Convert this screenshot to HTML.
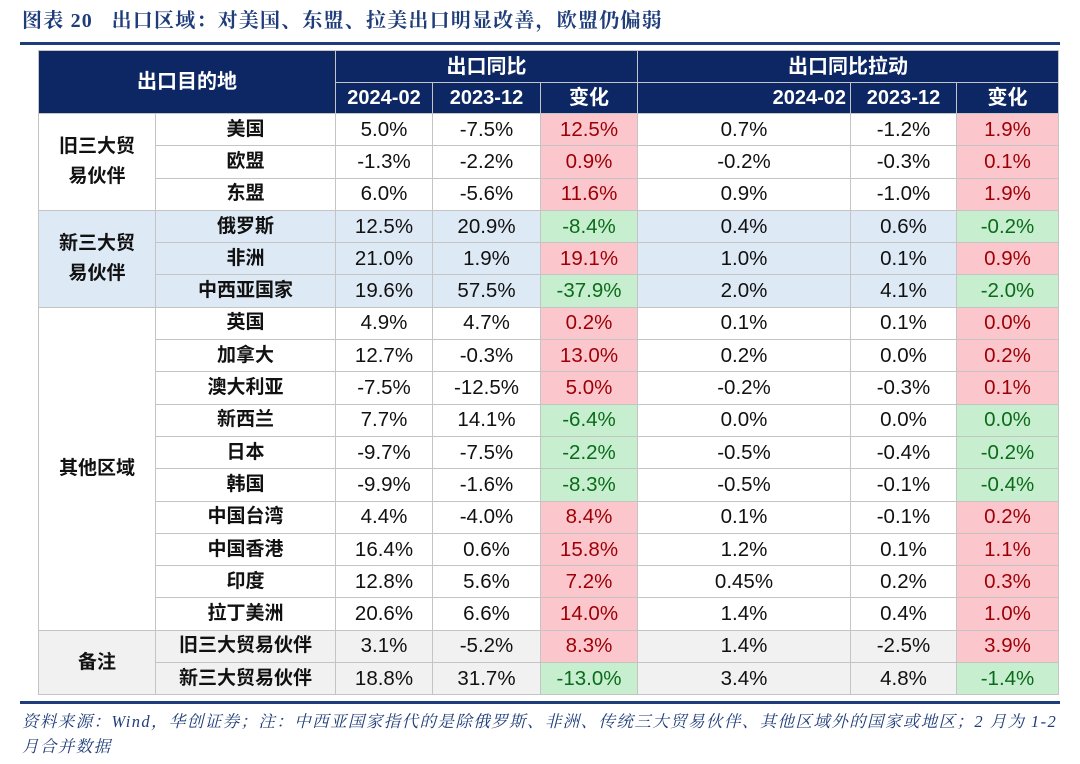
<!DOCTYPE html>
<html><head><meta charset="utf-8">
<style>
body{margin:0;width:1080px;height:764px;background:#fff;position:relative;overflow:hidden;font-family:"Liberation Sans","Noto Sans CJK SC",sans-serif}
#title{position:absolute;left:22px;top:7px;font:bold 20px "Liberation Serif","Noto Serif CJK SC",serif;color:#1f3d7a;letter-spacing:1.2px;white-space:nowrap;line-height:28px}
.rule{position:absolute;left:20px;width:1040px;height:3px;background:#1f3d7a}
table{position:absolute;left:38px;top:50px;border-collapse:collapse;table-layout:fixed;width:1020px}
td,th{border:1.5px solid #c4c4c4;text-align:center;padding:0;font-size:20.5px;color:#111;white-space:nowrap;line-height:22px;vertical-align:middle;overflow:hidden}
th{background:#0c2764;color:#fff;font-weight:bold;font-size:20px}
tr.d{height:32.3px}
tr.h1{height:32px} tr.h2{height:31px}
.g{font-weight:bold;font-size:19px;line-height:30px}
.n{font-weight:bold;font-size:19px}
.b{background:#dde9f5}
.q{background:#f1f1f1}
.r{background:#fbc7cc;color:#9c0006}
.gr{background:#c7efcf;color:#0b6b1a}
#note{position:absolute;left:22px;top:709px;font:italic 16.5px "Liberation Serif","Noto Serif CJK SC",serif;color:#1f3d7a;line-height:25px;width:1060px;letter-spacing:1.4px;white-space:nowrap}
</style></head><body>
<div id="title">图表 20&nbsp;&nbsp; 出口区域：对美国、东盟、拉美出口明显改善，欧盟仍偏弱</div>
<div class="rule" style="top:42px"></div>
<table>
<colgroup><col style="width:117px"><col style="width:180px"><col style="width:97px"><col style="width:108px"><col style="width:97px"><col style="width:213px"><col style="width:106px"><col style="width:102px"></colgroup>
<tr class="h1"><th rowspan="2" colspan="2">出口目的地</th><th colspan="3">出口同比</th><th colspan="3">出口同比拉动</th></tr>
<tr class="h2"><th>2024-02</th><th>2023-12</th><th>变化</th><th style="text-align:right;padding-right:4px">2024-02</th><th>2023-12</th><th>变化</th></tr>

<tr class="d"><td rowspan="3" class="g">旧三大贸<br>易伙伴</td><td class="n">美国</td><td>5.0%</td><td>-7.5%</td><td class="r">12.5%</td><td>0.7%</td><td>-1.2%</td><td class="r">1.9%</td></tr>
<tr class="d"><td class="n">欧盟</td><td>-1.3%</td><td>-2.2%</td><td class="r">0.9%</td><td>-0.2%</td><td>-0.3%</td><td class="r">0.1%</td></tr>
<tr class="d"><td class="n">东盟</td><td>6.0%</td><td>-5.6%</td><td class="r">11.6%</td><td>0.9%</td><td>-1.0%</td><td class="r">1.9%</td></tr>

<tr class="d"><td rowspan="3" class="g b">新三大贸<br>易伙伴</td><td class="n b">俄罗斯</td><td class="b">12.5%</td><td class="b">20.9%</td><td class="gr">-8.4%</td><td class="b">0.4%</td><td class="b">0.6%</td><td class="gr">-0.2%</td></tr>
<tr class="d"><td class="n b">非洲</td><td class="b">21.0%</td><td class="b">1.9%</td><td class="r">19.1%</td><td class="b">1.0%</td><td class="b">0.1%</td><td class="r">0.9%</td></tr>
<tr class="d"><td class="n b">中西亚国家</td><td class="b">19.6%</td><td class="b">57.5%</td><td class="gr">-37.9%</td><td class="b">2.0%</td><td class="b">4.1%</td><td class="gr">-2.0%</td></tr>

<tr class="d"><td rowspan="10" class="g">其他区域</td><td class="n">英国</td><td>4.9%</td><td>4.7%</td><td class="r">0.2%</td><td>0.1%</td><td>0.1%</td><td class="r">0.0%</td></tr>
<tr class="d"><td class="n">加拿大</td><td>12.7%</td><td>-0.3%</td><td class="r">13.0%</td><td>0.2%</td><td>0.0%</td><td class="r">0.2%</td></tr>
<tr class="d"><td class="n">澳大利亚</td><td>-7.5%</td><td>-12.5%</td><td class="r">5.0%</td><td>-0.2%</td><td>-0.3%</td><td class="r">0.1%</td></tr>
<tr class="d"><td class="n">新西兰</td><td>7.7%</td><td>14.1%</td><td class="gr">-6.4%</td><td>0.0%</td><td>0.0%</td><td class="gr">0.0%</td></tr>
<tr class="d"><td class="n">日本</td><td>-9.7%</td><td>-7.5%</td><td class="gr">-2.2%</td><td>-0.5%</td><td>-0.4%</td><td class="gr">-0.2%</td></tr>
<tr class="d"><td class="n">韩国</td><td>-9.9%</td><td>-1.6%</td><td class="gr">-8.3%</td><td>-0.5%</td><td>-0.1%</td><td class="gr">-0.4%</td></tr>
<tr class="d"><td class="n">中国台湾</td><td>4.4%</td><td>-4.0%</td><td class="r">8.4%</td><td>0.1%</td><td>-0.1%</td><td class="r">0.2%</td></tr>
<tr class="d"><td class="n">中国香港</td><td>16.4%</td><td>0.6%</td><td class="r">15.8%</td><td>1.2%</td><td>0.1%</td><td class="r">1.1%</td></tr>
<tr class="d"><td class="n">印度</td><td>12.8%</td><td>5.6%</td><td class="r">7.2%</td><td>0.45%</td><td>0.2%</td><td class="r">0.3%</td></tr>
<tr class="d"><td class="n">拉丁美洲</td><td>20.6%</td><td>6.6%</td><td class="r">14.0%</td><td>1.4%</td><td>0.4%</td><td class="r">1.0%</td></tr>

<tr class="d"><td rowspan="2" class="g q">备注</td><td class="n q">旧三大贸易伙伴</td><td class="q">3.1%</td><td class="q">-5.2%</td><td class="r">8.3%</td><td class="q">1.4%</td><td class="q">-2.5%</td><td class="r">3.9%</td></tr>
<tr class="d"><td class="n q">新三大贸易伙伴</td><td class="q">18.8%</td><td class="q">31.7%</td><td class="gr">-13.0%</td><td class="q">3.4%</td><td class="q">4.8%</td><td class="gr">-1.4%</td></tr>
</table>
<div class="rule" style="top:701px"></div>
<div id="note">资料来源：Wind，华创证券；注：中西亚国家指代的是除俄罗斯、非洲、传统三大贸易伙伴、其他区域外的国家或地区；2 月为 1-2<br>月合并数据</div>
</body></html>
